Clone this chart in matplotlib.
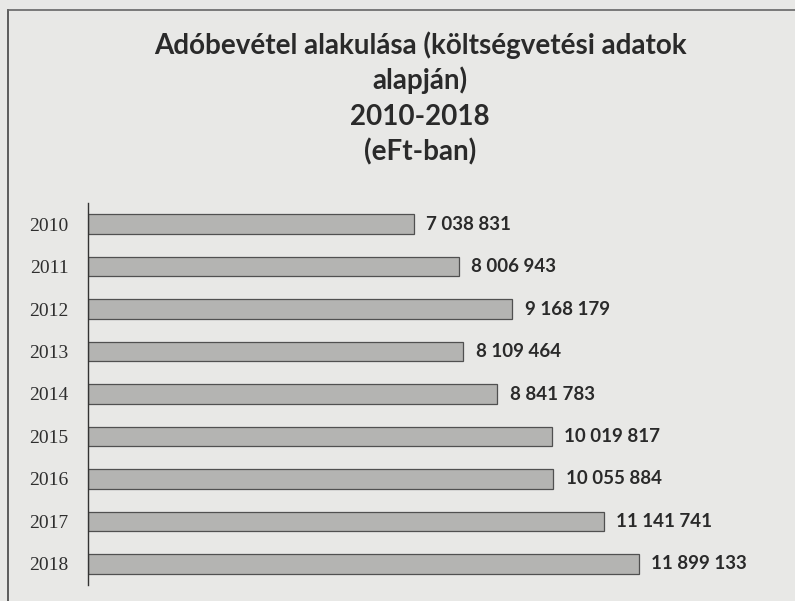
import matplotlib.pyplot as plt
from matplotlib.lines import Line2D

# Adóbevétel 2010-2018, eFt
years = ["2010", "2011", "2012", "2013", "2014", "2015", "2016", "2017", "2018"]
values = [7038831, 8006943, 9168179, 8109464, 8841783,
          10019817, 10055884, 11141741, 11899133]

title_lines = ["Adóbevétel alakulása (költségvetési adatok",
               "alapján)",
               "2010-2018",
               "(eFt-ban)"]

bg = "#e8e8e6"
sans = ["Lato", "DejaVu Sans"]

fig = plt.figure(figsize=(7.95, 6.01), dpi=100, facecolor=bg)
ax = fig.add_axes([88 / 795, 1 - 585 / 601, (736 - 88) / 795, (585 - 203) / 601])
ax.set_facecolor(bg)

pos = list(range(len(years)))
ax.barh(pos, values, height=0.46, color="#b4b4b2", edgecolor="#505050", linewidth=0.9)

ax.set_ylim(8.5, -0.5)
ax.set_xlim(0, 14000000)
ax.set_yticks(pos)
ax.set_yticklabels(years, family=["Liberation Serif", "DejaVu Serif"], fontsize=14, color="#2e2e2e")
ax.tick_params(axis="y", length=0, pad=14)
ax.set_xticks([])
for s in ["top", "right", "bottom"]:
    ax.spines[s].set_visible(False)
ax.spines["left"].set_color("#333333")
ax.spines["left"].set_linewidth(1.0)

# value labels to the right of each bar
for p, v in zip(pos, values):
    ax.annotate(f"{v:,}".replace(",", " "), xy=(v, p), xytext=(9, 0),
                textcoords="offset points", va="center", ha="left",
                family=sans, fontweight="bold", fontsize=13.5, color="#2a2a2a")

# title, one line at a time
title_y = [45, 80, 117, 152]
for line, y in zip(title_lines, title_y):
    fig.text(420 / 795, 1 - y / 601, line, ha="center", va="center",
             family=sans, fontweight="bold", fontsize=20, color="#2a2a2a")

# chart border (left and top edges visible in the scan)
fig.add_artist(Line2D([8 / 795, 8 / 795], [0, 1 - 10 / 601], color="#444444", lw=1.2,
                      transform=fig.transFigure))
fig.add_artist(Line2D([8 / 795, 1], [1 - 10 / 601, 1 - 10 / 601], color="#666666", lw=1.2,
                      transform=fig.transFigure))

fig.savefig("out.png", dpi=100, facecolor=bg)
